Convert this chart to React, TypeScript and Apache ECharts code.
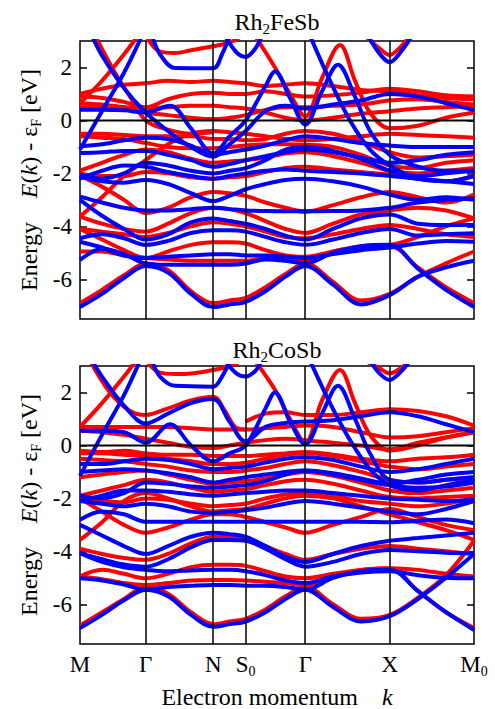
import React, { useEffect, useRef } from 'react';
import * as echarts from 'echarts';

// k-path sample points (shared grid) and high-symmetry points
const K = [0, 0.22, 0.44, 0.657, 0.88, 1.11, 1.333, 1.495, 1.657, 1.855, 2.055, 2.253, 2.53, 2.81, 3.097, 3.38, 3.66, 3.94];
const K_SYM = [0, 0.657, 1.333, 1.657, 2.253, 3.097, 3.94];
const SYM_LABELS = ['M', 'Γ', 'N', 'S0', 'Γ', 'X', 'M0'];
const Y_TICKS = [-6, -4, -2, 0, 2];

// ---------- Rh2FeSb ----------
const feRedGrid = [
  [-6.9, -6.4, -5.85, -5.4, -5.65, -6.45, -6.9, -6.8, -6.7, -6.3, -5.8, -5.4, -6.1, -6.8, -6.55, -5.9, -5.4, -4.95],
  [-4.95, -4.95, -5.1, -5.2, -5.25, -5.3, -5.3, -5.3, -5.3, -5.2, -5.2, -5.3, -4.95, -4.8, -4.75, -5.55, -6.3, -6.9],
  [-4.1, -4.5, -4.9, -5.2, -4.95, -4.7, -4.6, -4.6, -4.65, -4.9, -5.1, -5.15, -4.95, -4.75, -4.7, -4.4, -4.0, -3.7],
  [-4.1, -4.2, -4.3, -4.4, -4.25, -4.0, -3.85, -3.9, -4.0, -4.2, -4.4, -4.45, -4.3, -4.1, -3.95, -4.1, -4.3, -4.4],
  [-3.63, -3.9, -4.1, -4.2, -3.9, -3.5, -3.3, -3.35, -3.5, -3.8, -4.1, -4.25, -3.9, -3.55, -3.4, -3.3, -3.4, -3.7],
  [-2.1, -2.5, -3.0, -3.5, -3.3, -2.9, -2.7, -2.75, -2.85, -3.1, -3.3, -3.45, -3.2, -2.9, -2.7, -2.9, -3.1, -2.8],
  [-3.63, -2.9, -2.1, -1.5, -0.9, -0.5, -0.4, -0.45, -0.5, -0.6, -0.7, -0.75, -0.7, -0.6, -0.5, -0.55, -0.6, -0.65],
  [-0.5, -0.5, -0.55, -0.6, -0.6, -0.6, -0.7, -0.7, -0.75, -0.7, -0.5, -0.4, -0.5, -0.8, -1.2, -1.4, -1.35, -1.3],
  [-0.6, -0.65, -0.7, -0.85, -1.0, -1.05, -1.05, -1.0, -0.95, -0.9, -0.9, -0.92, -1.0, -1.3, -1.7, -1.8, -1.6, -1.5],
  [-1.9, -1.6, -1.3, -1.1, -1.2, -1.45, -1.6, -1.55, -1.5, -1.4, -1.25, -1.2, -1.35, -1.6, -1.9, -2.0, -1.9, -1.8],
  [-2.0, -2.1, -2.1, -1.95, -2.0, -2.15, -2.2, -2.15, -2.1, -1.95, -1.8, -1.75, -1.85, -1.95, -2.05, -2.2, -2.3, -2.1],
  [0.5, 0.5, 0.5, 0.45, 0.5, 0.55, 0.55, 0.5, 0.45, 0.3, 0.1, 0.0, 0.1, 0.25, 0.35, 0.45, 0.5, 0.55],
  [0.65, 0.6, 0.5, 0.3, 0.2, 0.1, 0.05, 0.1, 0.2, 0.4, 0.5, 0.5, 0.55, 0.6, 0.75, 0.8, 0.7, 0.6],
  [0.9, 0.85, 0.7, 0.5, 0.8, 1.0, 1.05, 1.0, 1.0, 1.1, 1.0, 0.9, 0.95, 1.05, 1.2, 1.1, 0.95, 0.9],
  [1.0, 1.2, 1.35, 1.4, 1.5, 1.45, 1.5, 1.45, 1.4, 1.3, 1.35, 1.4, 1.3, 1.15, 1.1, 0.95, 0.85, 0.8],
];
const feRedCurves = [
  [[0, 0.65], [0.22, 1.5], [0.44, 2.5], [0.58, 3.2]],
  [[0.15, 3.2], [0.35, 1.8], [0.5, 0.9], [0.657, 0.0], [0.88, -0.35], [1.11, -0.5], [1.333, -0.45]],
  [[0.66, 3.2], [0.8, 2.6], [0.95, 2.55], [1.11, 2.65], [1.333, 2.8], [1.5, 2.95], [1.62, 3.2]],
  [[1.75, 3.2], [1.95, 2.0], [2.1, 1.0], [2.253, 0.15], [2.42, 1.6], [2.6, 2.85], [2.75, 1.5], [2.9, 0.3], [3.097, -0.3], [3.38, -0.2], [3.66, 0.1], [3.94, 0.3]],
  [[2.85, 3.2], [3.0, 2.7], [3.097, 2.47], [3.2, 2.75], [3.3, 3.2]],
];
const feBlueGrid = [
  [-7.05, -6.55, -5.95, -5.5, -5.75, -6.55, -7.05, -6.95, -6.85, -6.45, -5.9, -5.5, -6.2, -6.95, -6.6, -5.9, -5.55, -5.3],
  [-5.27, -4.85, -5.05, -5.4, -5.45, -5.45, -5.45, -5.45, -5.4, -5.25, -5.3, -5.4, -5.0, -4.75, -4.7, -5.6, -6.4, -7.05],
  [-4.58, -4.8, -5.1, -5.2, -5.15, -5.1, -5.05, -5.05, -5.1, -5.1, -5.15, -5.2, -5.05, -4.9, -4.8, -4.65, -4.55, -4.58],
  [-4.45, -4.3, -4.45, -4.7, -4.55, -4.25, -4.15, -4.15, -4.2, -4.4, -4.6, -4.7, -4.5, -4.25, -4.1, -4.35, -4.3, -4.26],
  [-2.88, -3.1, -3.3, -3.4, -3.4, -3.35, -3.3, -3.35, -3.4, -3.42, -3.43, -3.43, -3.42, -3.4, -3.3, -3.1, -3.0, -2.95],
  [-3.0, -3.6, -4.1, -4.5, -4.3, -3.85, -3.7, -3.8, -3.9, -4.1, -4.35, -4.5, -4.1, -3.7, -3.55, -3.9, -3.95, -3.95],
  [-2.1, -2.3, -2.35, -2.25, -2.4, -2.75, -3.05, -2.85, -2.6, -2.4, -2.25, -2.2, -2.3, -2.5, -2.8, -3.0, -2.9, -3.0],
  [-0.98, -0.9, -0.75, -0.65, -0.7, -0.95, -1.3, -1.2, -1.1, -0.95, -0.75, -0.6, -0.7, -0.85, -0.95, -1.0, -1.0, -1.0],
  [-1.23, -1.2, -1.15, -1.15, -1.3, -1.5, -1.75, -1.65, -1.5, -1.35, -1.2, -1.1, -1.2, -1.4, -1.6, -1.5, -1.3, -1.2],
  [-2.05, -2.2, -2.0, -1.6, -1.7, -1.9, -2.0, -1.9, -1.8, -1.5, -1.1, -1.0, -1.15, -1.45, -1.9, -2.1, -2.0, -1.9],
  [-2.2, -1.9, -1.7, -1.75, -1.95, -2.1, -2.2, -2.1, -2.0, -1.9, -1.85, -1.9, -1.95, -2.0, -2.1, -2.2, -2.3, -2.4],
];
const feBlueCurves = [
  [[0, -1.1], [0.22, 0.35], [0.44, 1.8], [0.62, 3.2]],
  [[0.12, 3.2], [0.22, 2.45], [0.44, 1.22], [0.657, 0.3], [0.88, -0.4], [1.11, -1.0], [1.333, -1.37], [1.495, -0.9], [1.657, -0.4], [1.855, 0.35], [2.055, 0.55], [2.253, 0.45], [2.53, 0.6], [2.81, 0.75], [3.097, 1.0], [3.38, 0.9], [3.66, 0.65], [3.94, 0.39]],
  [[0, 0.4], [0.22, 0.4], [0.44, 0.38], [0.657, 0.3], [0.9, 0.55], [1.11, -0.3], [1.333, -1.25], [1.495, -0.6], [1.657, 0.0], [1.855, 1.3], [1.95, 1.85], [2.1, 0.85], [2.253, -0.16], [2.42, 1.1], [2.58, 2.1], [2.75, 0.9], [2.9, -0.4], [3.097, -1.3], [3.38, -1.75], [3.66, -1.9], [3.94, -1.9]],
  [[0.72, 3.2], [0.8, 2.5], [0.95, 1.98], [1.333, 1.97], [1.42, 2.5], [1.5, 3.2]],
  [[1.45, 3.2], [1.57, 2.55], [1.657, 2.4], [1.75, 2.7], [1.82, 3.2]],
  [[2.88, 3.2], [3.0, 2.5], [3.097, 2.2], [3.2, 2.55], [3.32, 3.2]],
  [[2.3, 3.2], [2.5, 1.5], [2.7, 0.0], [2.9, -1.1], [3.097, -1.7], [3.38, -2.2], [3.66, -2.3], [3.94, -2.1]],
];

// ---------- Rh2CoSb ----------
const coRedGrid = [
  [-6.8, -6.3, -5.8, -5.35, -5.6, -6.3, -6.75, -6.65, -6.55, -6.2, -5.7, -5.35, -6.0, -6.55, -6.4, -5.75, -4.9, -3.6],
  [-4.95, -5.05, -5.2, -5.27, -5.2, -5.1, -5.08, -5.08, -5.1, -5.15, -5.2, -5.27, -4.95, -4.7, -4.64, -5.5, -6.3, -6.9],
  [-4.95, -4.7, -4.85, -5.02, -4.85, -4.6, -4.51, -4.51, -4.55, -4.75, -4.95, -5.02, -4.85, -4.7, -4.64, -4.7, -4.85, -4.95],
  [-3.9, -4.1, -4.25, -4.32, -4.1, -3.7, -3.45, -3.45, -3.5, -3.8, -4.1, -4.32, -4.1, -3.9, -3.8, -3.9, -4.0, -4.1],
  [-3.57, -2.9, -2.1, -1.8, -2.0, -2.3, -2.5, -2.45, -2.4, -2.2, -2.0, -1.9, -2.0, -2.3, -2.6, -2.9, -3.2, -3.57],
  [-2.0, -2.5, -3.0, -3.3, -3.1, -2.8, -2.6, -2.6, -2.7, -2.9, -3.1, -3.3, -3.0, -2.7, -2.4, -2.7, -3.0, -3.2],
  [-0.3, -0.3, -0.35, -0.4, -0.5, -0.6, -0.7, -0.7, -0.65, -0.5, -0.35, -0.3, -0.4, -0.6, -0.8, -0.9, -0.8, -0.7],
  [-0.5, -0.55, -0.6, -0.7, -0.8, -0.95, -1.0, -1.0, -0.95, -0.85, -0.7, -0.6, -0.75, -1.0, -1.3, -1.4, -1.3, -1.2],
  [-1.2, -1.1, -1.0, -0.95, -1.1, -1.3, -1.45, -1.4, -1.35, -1.25, -1.1, -1.0, -1.15, -1.4, -1.7, -1.8, -1.7, -1.6],
  [-1.9, -1.7, -1.5, -1.3, -1.4, -1.6, -1.75, -1.7, -1.65, -1.5, -1.35, -1.3, -1.45, -1.7, -1.95, -2.0, -1.95, -1.9],
  [-2.0, -2.1, -2.15, -2.0, -2.05, -2.2, -2.3, -2.25, -2.2, -2.0, -1.85, -1.8, -1.9, -2.1, -2.2, -2.3, -2.2, -2.0],
  [0.7, 0.7, 0.7, 0.7, 0.7, 0.65, 0.6, 0.6, 0.6, 0.65, 0.7, 0.75, 0.7, 0.5, 0.3, 0.35, 0.5, 0.65],
  [0.55, 0.5, 0.4, 0.25, 0.1, -0.05, -0.1, 0.0, 0.1, 0.2, 0.25, 0.2, 0.1, 0.0, -0.15, 0.1, 0.3, 0.5],
  [-0.2, -0.25, -0.2, -0.3, -0.35, -0.35, -0.4, -0.4, -0.4, -0.35, -0.3, -0.25, -0.35, -0.5, -0.6, -0.5, -0.45, -0.35],
];
const coRedCurves = [
  [[0, 0.7], [0.22, 1.6], [0.44, 2.6], [0.56, 3.2]],
  [[0.1, 3.2], [0.3, 2.0], [0.5, 1.3], [0.657, 1.15], [0.88, 1.4], [1.11, 1.7], [1.333, 1.84], [1.45, 1.3], [1.55, 0.7], [1.657, 0.6]],
  [[1.657, 0.9], [1.855, 1.2], [2.055, 1.25], [2.253, 1.15], [2.53, 1.15], [2.81, 1.25], [3.097, 1.37], [3.38, 1.3], [3.66, 1.1], [3.94, 0.75]],
  [[0.66, 3.2], [0.8, 2.75], [0.95, 2.7], [1.11, 2.72], [1.333, 2.85], [1.5, 3.0], [1.62, 3.2]],
  [[1.75, 3.2], [1.95, 2.1], [2.1, 1.0], [2.253, 0.1], [2.42, 1.7], [2.6, 2.85], [2.75, 1.6], [2.9, 0.4], [3.097, -0.2], [3.38, 0.0], [3.66, 0.3], [3.94, 0.5]],
  [[2.85, 3.2], [3.0, 2.9], [3.097, 2.72], [3.2, 2.9], [3.3, 3.2]],
];
const coBlueGrid = [
  [-6.9, -6.4, -5.85, -5.45, -5.7, -6.4, -6.85, -6.75, -6.65, -6.3, -5.8, -5.45, -6.1, -6.65, -6.45, -5.8, -5.0, -4.1],
  [-5.02, -5.1, -5.25, -5.45, -5.35, -5.3, -5.27, -5.27, -5.3, -5.3, -5.35, -5.45, -5.0, -4.75, -4.7, -5.5, -6.3, -6.97],
  [-4.07, -4.4, -4.6, -4.7, -4.75, -4.72, -4.7, -4.7, -4.75, -4.9, -5.1, -5.2, -4.95, -4.8, -4.75, -4.9, -5.0, -5.02],
  [-4.07, -4.3, -4.5, -4.58, -4.3, -3.85, -3.57, -3.57, -3.6, -3.9, -4.3, -4.58, -4.4, -4.1, -3.95, -4.0, -4.05, -4.07],
  [-2.81, -2.5, -2.6, -2.88, -2.88, -2.88, -2.88, -2.88, -2.88, -2.88, -2.88, -2.88, -2.88, -2.88, -2.9, -2.85, -2.8, -2.94],
  [-3.0, -3.4, -3.8, -4.1, -3.8, -3.45, -3.3, -3.35, -3.45, -3.8, -4.2, -4.4, -4.1, -3.8, -3.6, -3.5, -3.4, -3.3],
  [-2.1, -2.2, -2.3, -2.2, -2.3, -2.5, -2.55, -2.5, -2.45, -2.35, -2.2, -2.1, -2.2, -2.35, -2.5, -2.6, -2.4, -2.1],
  [-0.7, -0.7, -0.6, -0.5, -0.55, -0.7, -0.9, -0.85, -0.8, -0.65, -0.5, -0.45, -0.55, -0.8, -1.0, -0.9, -0.7, -0.5],
  [-1.0, -0.95, -0.9, -0.95, -1.05, -1.2, -1.4, -1.3, -1.2, -1.1, -1.0, -0.95, -1.05, -1.25, -1.45, -1.3, -1.1, -1.0],
  [-1.9, -2.0, -1.8, -1.4, -1.45, -1.55, -1.6, -1.55, -1.5, -1.35, -1.1, -0.95, -1.1, -1.3, -1.5, -1.6, -1.55, -1.4],
  [-2.1, -1.9, -1.7, -1.7, -1.75, -1.85, -1.9, -1.85, -1.8, -1.75, -1.7, -1.7, -1.8, -1.9, -2.0, -2.05, -2.1, -2.05],
];
const coBlueCurves = [
  [[0, -1.15], [0.22, 0.4], [0.44, 1.9], [0.6, 3.2]],
  [[0.12, 3.2], [0.22, 2.6], [0.44, 1.5], [0.657, 0.83], [0.88, 1.2], [1.11, 1.6], [1.333, 1.75], [1.495, 0.9], [1.657, 0.15], [1.855, 0.7], [2.055, 0.85], [2.253, 0.9], [2.53, 0.95], [2.81, 1.1], [3.097, 1.25], [3.38, 1.1], [3.66, 0.8], [3.94, 0.5]],
  [[0, 0.55], [0.22, 0.55], [0.44, 0.5], [0.657, 0.1], [0.9, 0.8], [1.11, 0.0], [1.333, -0.6], [1.495, -0.3], [1.657, 0.0], [1.855, 1.4], [1.95, 2.0], [2.1, 0.9], [2.253, 0.05], [2.42, 1.2], [2.58, 2.25], [2.75, 1.0], [2.9, -0.3], [3.097, -1.3], [3.38, -1.4], [3.66, -1.3], [3.94, -1.2]],
  [[0.72, 3.2], [0.8, 2.6], [0.95, 2.25], [1.333, 2.22], [1.42, 2.6], [1.5, 3.2]],
  [[1.45, 3.2], [1.57, 2.7], [1.657, 2.6], [1.75, 2.8], [1.82, 3.2]],
  [[2.9, 3.2], [3.0, 2.7], [3.097, 2.47], [3.2, 2.75], [3.3, 3.2]],
  [[2.3, 3.2], [2.5, 1.6], [2.7, 0.2], [2.9, -0.9], [3.097, -1.5], [3.38, -1.7], [3.66, -1.5], [3.94, -1.3]],
];

const FONT = 'Liberation Serif';
const RED = '#ff0000';
const BLUE = '#0000ff';
const K_MAX = K[K.length - 1];

function gridPairs(vals: number[]) {
  return K.map((k, i) => [k, vals[i]]);
}

function band(data: number[][], color: string, g: number) {
  return {
    type: 'line',
    xAxisIndex: g,
    yAxisIndex: g * 2,
    data,
    symbol: 'none',
    showSymbol: false,
    smooth: 0.35,
    silent: true,
    clip: true,
    z: color === BLUE ? 3 : 2,
    lineStyle: { color, width: 4 },
    itemStyle: { color },
  };
}

const richText = {
  n: { fontSize: 24, fontFamily: FONT, fill: '#000', lineHeight: 28, verticalAlign: 'middle' },
  i: { fontSize: 24, fontFamily: FONT, fontStyle: 'italic', fill: '#000', lineHeight: 28, verticalAlign: 'middle' },
  s: { fontSize: 14, fontFamily: FONT, fill: '#000', lineHeight: 14, verticalAlign: 'bottom' },
};
const titleRich = {
  n: { fontSize: 24, fontFamily: FONT, fill: '#000', lineHeight: 28, verticalAlign: 'middle' },
  s: { fontSize: 15, fontFamily: FONT, fill: '#000', lineHeight: 15, verticalAlign: 'bottom' },
};

export default function App() {
  const ref = useRef<HTMLDivElement>(null);
  useEffect(() => {
    if (!ref.current) return;
    const chart = echarts.init(ref.current, null, { renderer: 'svg' });
    const panels = [
      { red: feRedGrid, redC: feRedCurves, blue: feBlueGrid, blueC: feBlueCurves, top: 41 },
      { red: coRedGrid, redC: coRedCurves, blue: coBlueGrid, blueC: coBlueCurves, top: 366 },
    ];
    const grids: any[] = [];
    const xAxes: any[] = [];
    const yAxes: any[] = [];
    const series: any[] = [];
    panels.forEach((p, g) => {
      grids.push({ left: 80, top: p.top, width: 394, height: 278, show: true, borderColor: '#000', borderWidth: 1.5, backgroundColor: 'transparent' });
      xAxes.push({
        gridIndex: g, type: 'value', min: 0, max: K_MAX,
        axisLine: { show: false }, splitLine: { show: false },
        axisTick: { show: false },
        axisLabel: g === 1 ? {
          show: true,
          customValues: K_SYM,
          margin: 6,
          fontFamily: FONT,
          formatter: (v: number) => {
            const idx = K_SYM.findIndex((s) => Math.abs(s - v) < 1e-6);
            const lab = idx >= 0 ? SYM_LABELS[idx] : '';
            if (lab.length === 2) return '{m|' + lab[0] + '}{s|' + lab[1] + '}';
            return '{m|' + lab + '}';
          },
          rich: {
            m: { fontSize: 23, fontFamily: FONT, color: '#000', lineHeight: 28, verticalAlign: 'middle' },
            s: { fontSize: 14, fontFamily: FONT, color: '#000', lineHeight: 13, verticalAlign: 'bottom' },
          },
        } : { show: false },
      });
      yAxes.push({
        gridIndex: g, type: 'value', min: -7.5, max: 3, position: 'left',
        axisLine: { show: false }, splitLine: { show: false },
        axisTick: { show: true, inside: true, length: 7, customValues: Y_TICKS, lineStyle: { color: '#000', width: 1.5 } },
        axisLabel: { show: true, customValues: Y_TICKS, fontSize: 23, fontFamily: FONT, color: '#000', margin: 8 },
      });
      yAxes.push({
        gridIndex: g, type: 'value', min: -7.5, max: 3, position: 'right',
        axisLine: { show: false }, splitLine: { show: false },
        axisTick: { show: true, inside: true, length: 7, customValues: Y_TICKS, lineStyle: { color: '#000', width: 1.5 } },
        axisLabel: { show: false },
      });
      p.red.forEach((b) => series.push(band(gridPairs(b), RED, g)));
      p.redC.forEach((b) => series.push(band(b, RED, g)));
      p.blue.forEach((b) => series.push(band(gridPairs(b), BLUE, g)));
      p.blueC.forEach((b) => series.push(band(b, BLUE, g)));
      series.push({
        type: 'line', xAxisIndex: g, yAxisIndex: g * 2,
        data: [[0, 0], [K_MAX, 0]], symbol: 'none', silent: true, z: 6,
        lineStyle: { color: '#000', width: 2 },
        markLine: {
          silent: true, symbol: 'none', label: { show: false }, z: 6,
          lineStyle: { color: '#000', width: 1.5, type: 'solid' },
          data: K_SYM.slice(1, -1).map((x) => ({ xAxis: x })),
        },
      });
    });

    const yLabel = '{n|Energy}{n|    }{i|E}{n|(}{i|k}{n|) - ε}{s|F}{n| [eV]}';
    chart.setOption({
      animation: false,
      backgroundColor: '#fff',
      textStyle: { fontFamily: FONT },
      grid: grids,
      xAxis: xAxes,
      yAxis: yAxes,
      series,
      graphic: [
        { type: 'text', x: 277, y: 22, style: { text: '{n|Rh}{s|2}{n|FeSb}', rich: titleRich, font: '24px Liberation Serif', align: 'center', verticalAlign: 'middle', fill: '#000' } },
        { type: 'text', x: 277, y: 350, style: { text: '{n|Rh}{s|2}{n|CoSb}', rich: titleRich, font: '24px Liberation Serif', align: 'center', verticalAlign: 'middle', fill: '#000' } },
        { type: 'text', x: 29, y: 180, rotation: Math.PI / 2, style: { text: yLabel, rich: richText, font: '24px Liberation Serif', align: 'center', verticalAlign: 'middle', fill: '#000' } },
        { type: 'text', x: 29, y: 505, rotation: Math.PI / 2, style: { text: yLabel, rich: richText, font: '24px Liberation Serif', align: 'center', verticalAlign: 'middle', fill: '#000' } },
        { type: 'text', x: 277, y: 697, style: { text: '{n|Electron momentum}{n|    }{i|k}', rich: richText, font: '24px Liberation Serif', align: 'center', verticalAlign: 'middle', fill: '#000' } },
      ],
    });
    return () => chart.dispose();
  }, []);
  return <div ref={ref} style={{ position: 'fixed', left: 0, top: 0, width: 495, height: 709 }} />;
}
